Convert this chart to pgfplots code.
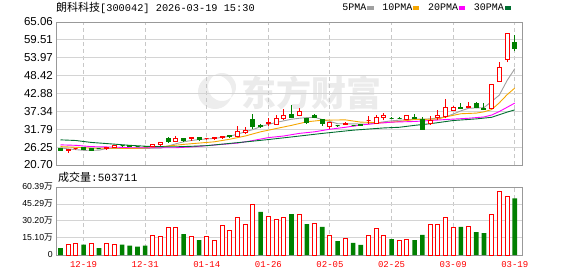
\documentclass[border=0pt]{standalone}
\usepackage{pgfplots}
\pgfplotsset{compat=1.18}
\usepackage{pgfplotstable}
\usepackage{fontspec}
\setmainfont{Liberation Sans}
\newfontfamily\cjk{Noto Sans CJK SC}
\newfontfamily\mono{Liberation Mono}
\definecolor{upred}{RGB}{255,0,0}
\definecolor{dngreen}{RGB}{0,128,0}
\definecolor{maA}{RGB}{160,160,160}
\definecolor{maB}{RGB}{245,166,0}
\definecolor{maC}{RGB}{255,0,255}
\definecolor{maD}{RGB}{0,110,48}
\definecolor{framec}{RGB}{153,153,153}
\definecolor{gridc}{RGB}{212,212,212}
\definecolor{gridd}{RGB}{200,200,200}

% candles: i open high low close
\pgfplotstableread{
i o h l c
1 25.35 25.75 24.63 25.45
2 25.75 26.05 25.60 25.85
6 25.75 26.40 25.60 26.20
7 26.20 26.70 26.10 26.60
12 26.50 27.10 26.40 27.00
13 27.00 27.80 26.90 27.60
15 27.92 30.00 27.90 29.07
17 28.85 29.20 28.23 29.16
19 28.90 29.20 28.70 29.00
20 28.90 29.40 28.50 29.10
21 29.10 29.80 28.90 29.45
23 29.47 32.80 29.40 31.20
24 30.90 32.60 30.60 31.50
27 33.50 35.10 32.90 33.90
28 33.30 35.97 33.20 35.17
29 35.17 38.05 34.64 35.97
31 36.00 38.27 35.90 37.20
35 32.57 33.90 32.10 33.75
37 33.40 34.30 33.30 33.60
40 34.40 35.60 33.50 34.50
41 33.62 36.20 33.50 35.35
42 35.57 36.80 34.64 36.20
45 34.86 36.20 34.80 36.10
48 33.50 35.88 33.40 34.55
49 35.35 37.74 34.64 36.00
50 35.80 40.90 35.10 38.50
51 37.60 38.80 37.30 38.50
53 38.45 40.20 38.40 38.76
56 38.14 45.80 38.00 45.70
57 46.63 52.60 46.50 50.97
58 53.45 61.50 52.39 61.50
}\upcandles
\pgfplotstableread{
i o h l c
0 25.87 25.95 25.05 25.13
3 26.06 26.10 25.40 25.44
4 25.87 25.95 25.30 25.35
5 25.90 26.00 25.70 25.85
8 26.75 27.00 26.40 26.65
9 26.60 26.80 26.40 26.50
10 26.50 26.60 26.30 26.40
11 26.50 26.60 26.35 26.45
14 29.07 29.47 27.80 27.92
16 28.85 28.90 28.10 28.23
18 29.28 29.50 28.30 28.54
22 29.80 30.30 29.20 29.65
25 34.95 36.40 32.07 32.57
26 33.00 33.50 32.30 32.70
30 36.40 39.07 35.20 35.35
32 35.00 35.20 33.70 33.80
33 35.97 36.40 35.00 35.35
34 34.85 34.90 33.10 33.70
36 33.00 33.30 32.50 32.80
38 33.10 33.30 32.80 32.95
39 33.20 33.40 32.80 33.05
43 35.25 35.50 34.85 35.10
44 35.25 35.57 35.00 35.15
46 35.35 36.40 34.70 35.04
47 34.95 35.35 31.60 31.64
52 38.67 39.90 38.30 38.36
54 39.70 40.20 38.30 38.60
55 38.36 39.90 37.90 37.95
59 58.60 60.90 56.00 56.70
}\downcandles
% volume in 10k (wan)
\pgfplotstableread{
i v
1 8.9
2 9.8
4 9.8
6 9.8
7 8.9
12 16.9
13 16.0
14 24.0
15 24.0
17 16.0
19 16.0
20 13.0
21 26.4
22 21.9
23 33.5
24 27.3
25 45.0
27 34.4
28 31.7
29 32.9
31 36.1
33 28.1
35 17.5
37 14.8
40 16.9
41 23.1
42 16.9
44 13.0
45 14.2
48 27.3
49 27.3
50 33.5
51 24.0
53 25.5
56 36.1
57 56.6
58 52.1
}\upvol
\pgfplotstableread{
i v
0 6.2
3 9.2
5 6.2
8 9.2
9 8.3
10 7.4
11 8.3
16 18.6
18 13.3
26 38.2
30 36.4
32 27.5
34 24.9
36 12.4
38 10.7
39 8.9
43 14.2
46 13.3
47 17.8
52 24.9
54 20.4
55 19.5
59 50.37
}\downvol
\pgfplotstableread{
i m
0 26.0
1 25.7
3 25.25
5 25.3
6 25.8
13 25.9
14 26.6
15 27.3
16 27.9
17 28.3
18 28.6
20 28.96
22 29.6
23 30.3
24 31.0
25 31.7
26 32.6
27 33.3
28 33.9
29 34.4
30 34.9
31 35.2
32 35.4
33 35.5
34 34.8
35 34.2
36 33.5
40 33.4
42 34.1
43 34.4
44 34.6
46 34.9
48 35.0
50 35.6
51 36.5
52 37.5
53 38.3
55 38.5
56 40.4
57 42.4
58 46.9
59 50.56
}\maFive
\pgfplotstableread{
i m
0 26.4
2 26.2
4 25.9
10 25.87
12 26.1
14 26.6
16 27.1
18 27.5
20 27.9
22 28.7
24 29.7
26 31.0
28 32.0
30 33.0
32 34.1
34 34.6
37 34.7
39 34.0
42 33.8
44 34.2
46 34.8
49 34.95
50 35.6
52 36.6
54 36.8
55 37.2
56 37.9
57 40.0
58 42.5
59 44.57
}\maTen
\pgfplotstableread{
i m
0 26.95
2 26.8
4 26.4
7 26.25
9 26.06
15 26.06
17 26.3
19 26.7
21 27.1
23 27.5
25 28.3
27 29.2
29 29.7
31 30.5
33 31.0
35 31.8
37 32.4
39 33.1
41 33.6
43 34.0
46 34.2
50 34.8
53 35.2
55 35.6
56 36.2
57 37.3
58 38.6
59 39.9
}\maTwenty
\pgfplotstableread{
i m
0 28.5
2 28.3
4 27.7
6 27.35
9 26.8
12 26.4
15 26.35
17 26.5
19 26.7
22 27.4
25 28.1
27 28.6
30 29.4
34 30.5
38 31.5
42 32.2
44 32.4
46 33.0
48 33.5
51 34.5
54 35.0
56 35.5
57 36.3
58 37.1
59 37.8
}\maThirty

\pgfdeclareplotmark{nomark}{}
\def\ky{3.22362}
% snap candle geometry to the pixel grid (1pt = 1px)
\def\snapcandle{%
  \pgfkeys{/pgf/fpu=false}%
  \pgfgettransformentries{\ta}{\tb}{\tc}{\td}{\tx}{\ty}%
  \pgfmathsetmacro\sx{round(\tx-0.5)+0.5-\tx}%
  \pgfmathsetmacro\xl{\sx-2}%
  \pgfmathsetmacro\xr{\sx+2}%
  \pgfmathsetmacro\sya{round(\ty-0.5)+0.5-\ty}%
  \pgfmathsetmacro\syb{round(\ty+\yc-0.5)+0.5-\ty}%
  \pgfmathsetmacro\syh{round(\ty+\yh-0.5)+0.5-\ty}%
  \pgfmathsetmacro\syl{round(\ty+\yl-0.5)+0.5-\ty}%
}
\pgfplotsset{
  candlebase/.style={only marks, mark=nomark, scatter, point meta=y,
    visualization depends on={(\thisrow{h}-\thisrow{o})*\ky \as \yh},
    visualization depends on={(\thisrow{l}-\thisrow{o})*\ky \as \yl},
    visualization depends on={(\thisrow{c}-\thisrow{o})*\ky \as \yc},
    scatter/@post marker code/.code={\endgroup}},
  candleup/.style={candlebase,
    scatter/@pre marker code/.code={\begingroup\snapcandle
      \draw[upred,line width=1pt] (\sx pt,\syl pt) -- (\sx pt,\syh pt);
      \draw[upred,line width=1pt,fill=white] (\xl pt,\sya pt) rectangle (\xr pt,\syb pt);}},
  candledown/.style={candlebase,
    scatter/@pre marker code/.code={\begingroup\snapcandle
      \draw[dngreen,line width=1pt] (\sx pt,\syl pt) -- (\sx pt,\syh pt);
      \draw[dngreen,line width=1pt,fill=dngreen] (\xl pt,\sya pt) rectangle (\xr pt,\syb pt);}},
  legend image code/.code={\fill[#1] (0pt,-1.4pt) rectangle (5.5pt,1.4pt);},
  panel/.style={
    scale only axis, width=466pt,
    xmin=-0.584, xmax=59.94,
    xtick={3,11,19,27,35,43,51,59},
    axis line style={draw=framec, line width=1pt},
    major tick length=0pt, tick style={draw=none},
    xmajorgrids, ymajorgrids,
    x grid style={draw=gridd, line width=1pt, dash pattern=on 4pt off 3pt},
    y grid style={draw=gridc, line width=1pt},
    yticklabel style={inner sep=0pt, xshift=-3pt},
  }
}

\begin{document}
\begin{tikzpicture}
\path[use as bounding box] (0pt,0pt) rectangle (578pt,276pt);
% watermark
\fill[gray!14, even odd rule] (215pt,184pt) circle (17pt) (222pt,189pt) circle (14pt);
\node[text=gray!16, font=\cjk\bfseries\fontsize{35}{36}\selectfont, inner sep=0pt] at (311pt,183pt) {东方财富};

\begin{axis}[panel,
  at={(56pt,111pt)}, anchor=south west, height=143pt,
  ymin=20.70, ymax=65.06,
  ytick={20.70,26.25,31.79,37.34,42.88,48.42,53.97,59.51,65.06},
  yticklabels={20.70,26.25,31.79,37.34,42.88,48.42,53.97,59.51,65.06},
  yticklabel style={font=\fontsize{11.5}{12}\selectfont},
  xticklabels={},
  legend columns=4, legend plot pos=right,
  legend style={draw=none, fill=none, at={(1,1)}, anchor=east,
    xshift=-11pt, yshift=14pt, inner sep=0pt, outer sep=0pt,
    font=\mono\fontsize{10}{11}\selectfont, nodes={inner sep=0.7pt},
    /tikz/every even column/.append style={column sep=8pt}},
]
\addplot[maA, line width=0.9pt, mark=none] table[x=i,y=m]{\maFive};
\addlegendentry{5PMA}
\addplot[maB, line width=0.9pt, mark=none] table[x=i,y=m]{\maTen};
\addlegendentry{10PMA}
\addplot[maC, line width=0.9pt, mark=none] table[x=i,y=m]{\maTwenty};
\addlegendentry{20PMA}
\addplot[maD, line width=0.9pt, mark=none] table[x=i,y=m]{\maThirty};
\addlegendentry{30PMA}
\addplot[candledown, forget plot] table[x=i,y=o]{\downcandles};
\addplot[candleup, forget plot] table[x=i,y=o]{\upcandles};
\end{axis}

\begin{axis}[panel,
  at={(56pt,21pt)}, anchor=south west, height=68pt,
  ymin=0, ymax=60.39,
  ytick={0,15.10,30.20,45.29,60.39},
  yticklabels={0,15.10{\cjk 万},30.20{\cjk 万},45.29{\cjk 万},60.39{\cjk 万}},
  yticklabel style={font=\fontsize{8.7}{10}\selectfont},
  xticklabels={12-19,12-31,01-14,01-26,02-05,02-25,03-09,03-19},
  xticklabel style={text=upred, font=\mono\fontsize{9}{10}\selectfont, inner sep=0pt, yshift=-6.5pt},
]
\addplot[ybar, bar width=4.6pt, bar shift=0pt, draw=none, fill=dngreen] table[x=i,y=v]{\downvol};
\addplot[ybar, bar width=4pt, bar shift=0pt, draw=upred, fill=white, line width=1pt] table[x=i,y=v]{\upvol};
\end{axis}

\node[anchor=west, inner sep=0pt] at (56pt,268pt) {{\cjk\fontsize{11}{12}\selectfont 朗科科技}{\mono\fontsize{10.3}{12}\selectfont [300042] 2026-03-19 15:30}};
\node[anchor=west, inner sep=0pt] at (58pt,98.5pt) {{\cjk\fontsize{11}{12}\selectfont 成交量}{\mono\fontsize{11}{12}\selectfont :503711}};
\end{tikzpicture}
\end{document}
